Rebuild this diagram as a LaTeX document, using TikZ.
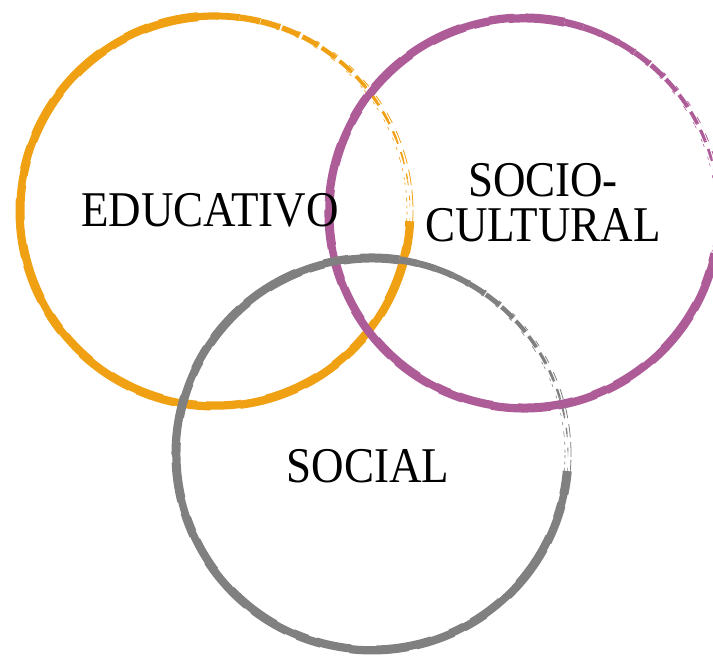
\documentclass[tikz,border=0pt]{standalone}
\usepackage{fontspec}
\setmainfont{Liberation Serif}
\usepackage{xcolor}
\usepackage{graphicx}

\definecolor{eduorange}{HTML}{F0A013}
\definecolor{culpurple}{HTML}{AE5C98}
\definecolor{socgray}{HTML}{808080}

% brush ring: colour, centre, radius, full stroke from/to (ccw), fading back to the start
\newcommand\brushring[5]{%
  \draw[#1, line width=7.5pt] (#2) ++(#4:#3) arc[start angle=#4, end angle=#5, radius=#3];
  \draw[#1, line width=2pt, dash pattern=on 40pt off 12pt on 25pt off 30pt on 60pt off 8pt]
    (#2) ++(#4:#3+3.5pt) arc[start angle=#4, end angle=#5, radius=#3+3.5pt];
  \draw[#1, line width=2pt, dash pattern=on 55pt off 20pt on 15pt off 9pt on 35pt off 25pt]
    (#2) ++(#4:#3-3.5pt) arc[start angle=#4, end angle=#5, radius=#3-3.5pt];
  \pgfmathsetmacro\fadestep{(#4-#5+360)/16}
  \foreach \k in {1,...,16}{
    \pgfmathsetmacro\fa{#5-360+(\k-1)*\fadestep}
    \pgfmathsetmacro\fw{0.45*\k}
    \pgfmathsetmacro\fon{2+1.4*\k}
    \pgfmathsetmacro\foff{max(0.5,12-0.8*\k)}
    \draw[#1, line width=\fw pt, dash pattern=on \fon pt off \foff pt]
      (#2) ++(\fa:#3) arc[start angle=\fa, delta angle=\fadestep, radius=#3];
    \draw[#1, line width=0.8pt, dash pattern=on \foff pt off \fon pt]
      (#2) ++(\fa:#3+3pt) arc[start angle=\fa, delta angle=\fadestep, radius=#3+3pt];
    \draw[#1, line width=0.6pt, dash pattern=on 3pt off \fon pt]
      (#2) ++(\fa:#3-3pt) arc[start angle=\fa, delta angle=\fadestep, radius=#3-3pt];
  }
}

\newcommand\ringlabel[1]{\scalebox{0.9}[1]{\begin{tabular}[b]{@{}c@{}}#1\end{tabular}}}

\begin{document}
\begin{tikzpicture}[x=1pt, y=1pt,
    label/.style={inner sep=0pt, anchor=base, font=\fontsize{50}{40}\selectfont}]
  \useasboundingbox (0,0) rectangle (713,656);

  \coordinate (cEdu) at (215,445);
  \coordinate (cCul) at (524,443);
  \coordinate (cSoc) at (372,202);

  \brushring{eduorange}{cEdu}{195pt}{95}{357}
  \brushring{culpurple}{cCul}{195pt}{78}{348}
  \brushring{socgray}{cSoc}{196pt}{82}{355}

  \node[label] (edu) at (210,429) {\ringlabel{EDUCATIVO}};
  \node[label] (cul) at (543,414) {\ringlabel{SOCIO-\\CULTURAL}};
  \node[label] (soc) at (368,173) {\ringlabel{SOCIAL}};

\end{tikzpicture}
\end{document}
